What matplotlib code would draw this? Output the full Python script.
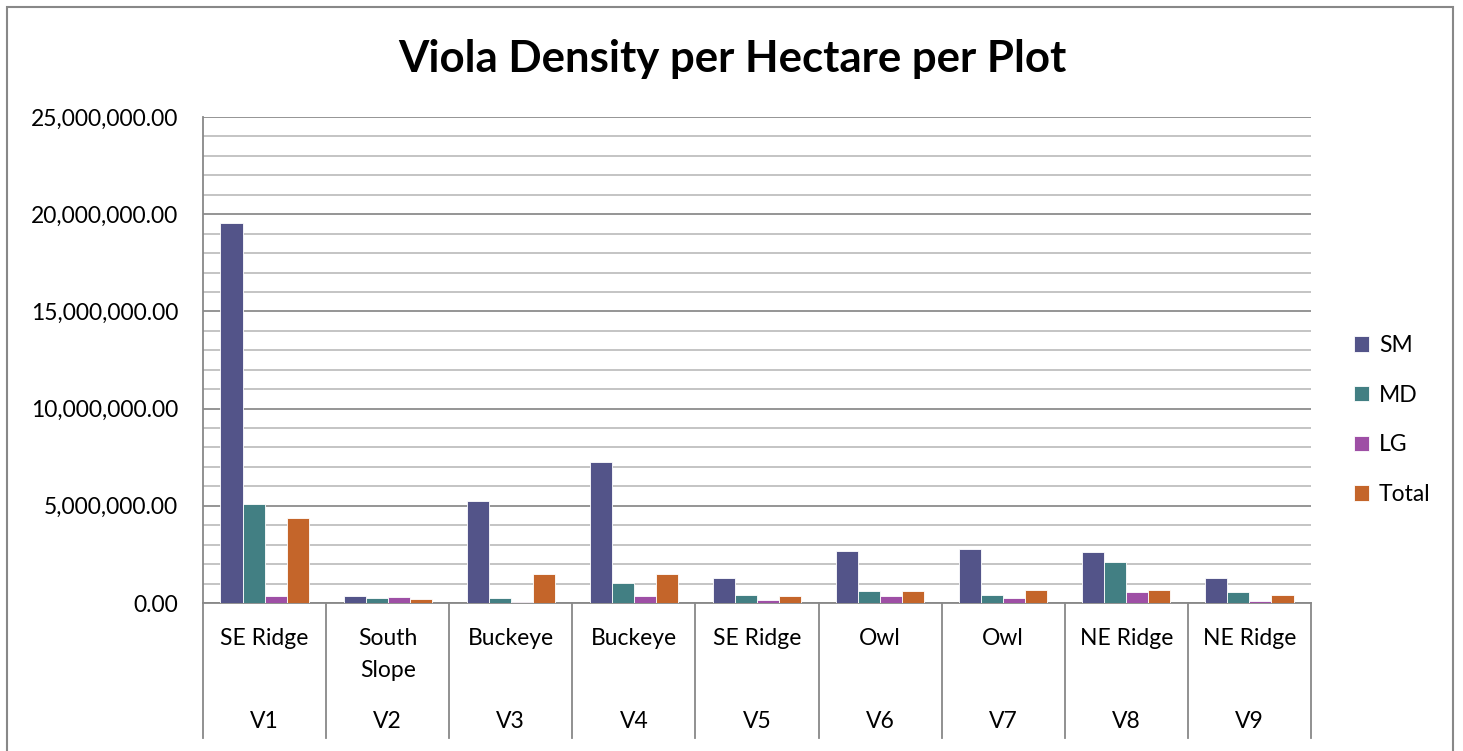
import numpy as np
import matplotlib.pyplot as plt
from matplotlib.patches import Rectangle
from matplotlib.ticker import FuncFormatter, MultipleLocator

plots = ["V1", "V2", "V3", "V4", "V5", "V6", "V7", "V8", "V9"]
sites = ["SE Ridge", "South\nSlope", "Buckeye", "Buckeye", "SE Ridge", "Owl", "Owl", "NE Ridge", "NE Ridge"]

sm = [19550000, 340000, 5250000, 7250000, 1270000, 2670000, 2780000, 2600000, 1300000]
md = [5100000, 270000, 260000, 1010000, 410000, 600000, 400000, 2090000, 570000]
lg = [380000, 290000, 50000, 340000, 150000, 380000, 240000, 570000, 90000]
total = [4390000, 200000, 1490000, 1490000, 350000, 600000, 670000, 670000, 400000]

series = [("SM", sm, "#535489"), ("MD", md, "#427F83"),
          ("LG", lg, "#9E4FA5"), ("Total", total, "#C4652A")]

plt.rcParams["font.family"] = ["Lato", "DejaVu Sans"]

fig = plt.figure(figsize=(14.63, 7.51), dpi=100)
ax = fig.add_axes([203 / 1463, 1 - 603 / 751, 1108 / 1463, 486 / 751])

# outer chart border
fig.patches.append(Rectangle((7 / 1463, -0.05), 1446 / 1463, 1.05 - 7 / 751,
                             transform=fig.transFigure, fill=False,
                             edgecolor="#888888", linewidth=1.5))

x = np.arange(len(plots))
w = 0.179
for i, (name, vals, col) in enumerate(series):
    ax.bar(x + (i - 1.5) * w, vals, width=w, color=col, edgecolor="white",
           linewidth=0.6, label=name, zorder=3)

ax.set_xlim(-0.5, len(plots) - 0.5)
ax.set_ylim(0, 25000000)
ax.yaxis.set_major_locator(MultipleLocator(5000000))
ax.yaxis.set_minor_locator(MultipleLocator(1000000))
ax.yaxis.set_major_formatter(FuncFormatter(lambda v, p: f"{v:,.2f}"))
ax.grid(which="minor", axis="y", color="#BFBFBF", linewidth=1.3, zorder=0)
ax.grid(which="major", axis="y", color="#8C8C8C", linewidth=1.3, zorder=0)
ax.tick_params(axis="y", which="both", length=0, labelsize=16.5, pad=18)
ax.tick_params(axis="x", length=0, labelbottom=False)
for s in ["top", "right"]:
    ax.spines[s].set_visible(False)
for s in ["left", "bottom"]:
    ax.spines[s].set_color("#888888")
    ax.spines[s].set_linewidth(1.3)

# two-level category axis
tr = ax.get_xaxis_transform()
for b in np.arange(-0.5, len(plots)):
    ax.plot([b, b], [0, -135 / 486], transform=tr, color="#888888",
            linewidth=1.3, clip_on=False)
for i in range(len(plots)):
    ax.text(i, -25 / 486, sites[i], transform=tr, ha="center", va="top",
            fontsize=16.5, linespacing=1.65)
    ax.text(i, -118 / 486, plots[i], transform=tr, ha="center", va="center",
            fontsize=16.5)

fig.suptitle("Viola Density per Hectare per Plot", x=732 / 1463, y=1 - 59 / 751,
             va="center", fontsize=31.5, fontweight="bold")

ax.legend(loc="center left", bbox_to_anchor=(1333 / 1463, 1 - 420 / 751),
          bbox_transform=fig.transFigure, frameon=False, fontsize=16.5,
          handlelength=0.65, handleheight=0.65, handletextpad=0.45,
          labelspacing=1.25)

fig.savefig("out.png", dpi=100)
